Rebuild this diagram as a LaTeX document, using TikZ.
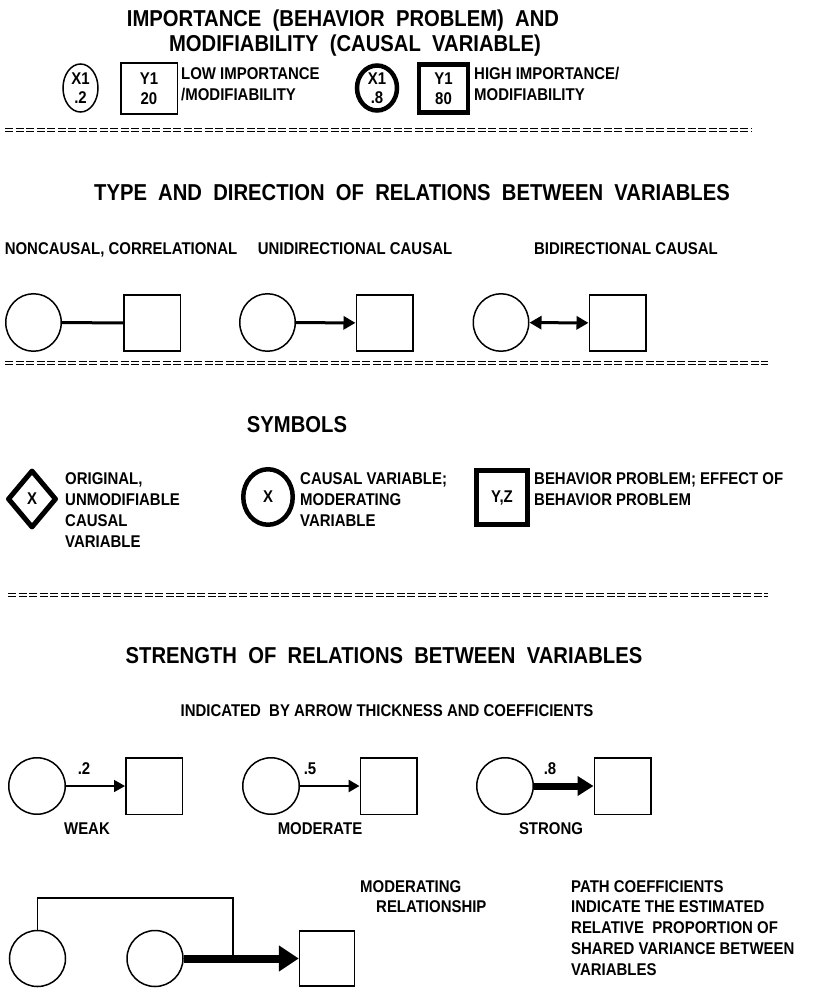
\documentclass[tikz,border=0pt]{standalone}
\usepackage{fontspec}
\usetikzlibrary{shapes.geometric,arrows.meta}
\newfontfamily\reffont[FakeStretch=0.88]{Liberation Sans Bold}
\newcommand{\bodyf}{\reffont\fontsize{17}{19.5}\selectfont}
\newcommand{\titlef}{\reffont\fontsize{23}{28}\selectfont}
\begin{document}
\begin{tikzpicture}[x=1pt,y=-1pt,
  lab/.style={font=\bodyf, inner sep=0pt, anchor=base west},
  clab/.style={font=\bodyf, inner sep=0pt, anchor=base},
  ttl/.style={font=\titlef, inner sep=0pt, anchor=base},
  oval/.style={ellipse, draw, line width=1.5pt, inner sep=0pt, font=\bodyf, align=center},
  boxn/.style={rectangle, draw, line width=1.5pt, inner sep=0pt, font=\bodyf, align=center},
  heavy/.style={line width=4.5pt},
  eqline/.style={double, double distance=1.8pt, line width=1.3pt, dash pattern=on 8pt off 2.5pt},
  conn/.style={line width=3pt},
  arrA/.style={-{Triangle[length=12pt,width=13pt]}, line width=3pt},
  arrB/.style={{Triangle[length=12pt,width=13pt]}-{Triangle[length=12pt,width=13pt]}, line width=3pt},
  weakarr/.style={-{Triangle[length=11pt,width=12pt]}, line width=1.6pt},
  modarr/.style={-{Triangle[length=11pt,width=12pt]}, line width=2.6pt},
  strongarr/.style={-{Triangle[length=16pt,width=19pt]}, line width=7pt},
  moderarr/.style={-{Triangle[length=20pt,width=25pt]}, line width=8pt},
  bracket/.style={line width=1.3pt}
]
\useasboundingbox (0,0) rectangle (816,990);

% ---------- Section 1 ----------
\node[ttl] (t1a) at (343,27) {IMPORTANCE\ \ (BEHAVIOR\ \ PROBLEM)\ \ AND};
\node[ttl] (t1b) at (355,52) {MODIFIABILITY\ \ (CAUSAL\ \ VARIABLE)};

\node[oval, minimum width=35pt, minimum height=48pt] (c1) at (80.5,88) {X1\\.2};
\node[boxn, minimum width=56.5pt, minimum height=50.5pt] (b1) at (149,88.5) {Y1\\20};
\node[lab] (l1a) at (181,80) {LOW IMPORTANCE};
\node[lab] (l1b) at (181,100) {/MODIFIABILITY};

\node[oval, heavy, minimum width=40pt, minimum height=45pt] (c2) at (377,88) {X1\\.8};
\node[boxn, heavy, minimum width=49pt, minimum height=48pt] (b2) at (443.5,88.5) {Y1\\80};
\node[lab] (l2a) at (474,80) {HIGH IMPORTANCE/};
\node[lab] (l2b) at (474,100) {MODIFIABILITY};

\coordinate (d1a) at (5,130);
\coordinate (d1b) at (752,130);
\draw[eqline] (d1a) -- (d1b);

% ---------- Section 2 ----------
\node[ttl] (t2) at (412,200) {TYPE\ \ AND\ \ DIRECTION\ \ OF\ \ RELATIONS\ \ BETWEEN\ \ VARIABLES};
\node[clab] (r1l) at (121,254) {NONCAUSAL, CORRELATIONAL};
\node[clab] (r2l) at (355,254) {UNIDIRECTIONAL CAUSAL};
\node[clab] (r3l) at (626,254) {BIDIRECTIONAL CAUSAL};

\node[oval, minimum width=55.5pt, minimum height=57.5pt] (r1c) at (33.5,322.5) {};
\node[boxn, minimum width=56.5pt, minimum height=56pt] (r1b) at (152,323) {};
\draw[conn] (r1c) -- (r1b);

\node[oval, minimum width=55.5pt, minimum height=57.5pt] (r2c) at (267.5,322.5) {};
\node[boxn, minimum width=56.5pt, minimum height=56pt] (r2b) at (384.5,323) {};
\draw[arrA] (r2c) -- (r2b);

\node[oval, minimum width=55.5pt, minimum height=57.5pt] (r3c) at (501,322.5) {};
\node[boxn, minimum width=56.5pt, minimum height=56pt] (r3b) at (617.5,323) {};
\draw[arrB] (r3c) -- (r3b);

\coordinate (d2a) at (5,363);
\coordinate (d2b) at (768,363);
\draw[eqline] (d2a) -- (d2b);

% ---------- Section 3 ----------
\node[ttl] (t3) at (297,432) {SYMBOLS};

\node[diamond, draw, line width=5pt, line join=round, inner sep=0pt, minimum width=49pt, minimum height=58pt, font=\bodyf] (sd) at (32,499) {X};
\node[lab] (sd1) at (65,484) {ORIGINAL,};
\node[lab] (sd2) at (65,505) {UNMODIFIABLE};
\node[lab] (sd3) at (65,526) {CAUSAL};
\node[lab] (sd4) at (65,547) {VARIABLE};

\node[oval, line width=4.5pt, minimum width=49.5pt, minimum height=55.5pt] (sc) at (268,497) {X};
\node[lab] (sc1) at (300,484) {CAUSAL VARIABLE;};
\node[lab] (sc2) at (300,505) {MODERATING};
\node[lab] (sc3) at (300,526) {VARIABLE};

\node[boxn, line width=5pt, minimum width=51pt, minimum height=54pt] (sb) at (502,497.5) {Y,Z};
\node[lab] (sb1) at (534,484) {BEHAVIOR PROBLEM; EFFECT OF};
\node[lab] (sb2) at (534,505) {BEHAVIOR PROBLEM};

\coordinate (d3a) at (8,595);
\coordinate (d3b) at (768,595);
\draw[eqline] (d3a) -- (d3b);

% ---------- Section 4 ----------
\node[ttl] (t4) at (384,663) {STRENGTH\ \ OF\ \ RELATIONS\ \ BETWEEN\ \ VARIABLES};
\node[clab] (t4s) at (387,716) {INDICATED\ \ BY ARROW THICKNESS AND COEFFICIENTS};

\node[oval, minimum width=56.5pt, minimum height=56.5pt] (s1c) at (37,786) {};
\node[boxn, minimum width=56.5pt, minimum height=56.5pt] (s1b) at (154,786) {};
\draw[weakarr] (s1c) -- (s1b);
\node[clab] (s1v) at (84,774) {.2};
\node[clab] (s1l) at (87,834) {WEAK};

\node[oval, minimum width=56.5pt, minimum height=56.5pt] (s2c) at (271,786) {};
\node[boxn, minimum width=56.5pt, minimum height=56.5pt] (s2b) at (388.5,786) {};
\draw[modarr] (s2c) -- (s2b);
\node[clab] (s2v) at (310,774) {.5};
\node[clab] (s2l) at (320,834) {MODERATE};

\node[oval, minimum width=56.5pt, minimum height=56.5pt] (s3c) at (505,786) {};
\node[boxn, minimum width=56.5pt, minimum height=56.5pt] (s3b) at (622.5,786) {};
\draw[strongarr] (s3c) -- (s3b);
\node[clab] (s3v) at (550,774) {.8};
\node[clab] (s3l) at (551,834) {STRONG};

% ---------- Moderating relationship ----------
\node[oval, minimum width=56pt, minimum height=56pt] (mA) at (37.5,958.5) {};
\node[oval, minimum width=56pt, minimum height=56pt] (mB) at (155,958.5) {};
\node[boxn, minimum width=55pt, minimum height=55pt] (mX) at (327,958.5) {};
\draw[moderarr] (mB) -- (mX);
\coordinate (mtop) at (233,898);
\coordinate (mjoin) at (233,958.5);
\draw[bracket] (mA.north) |- (mtop) -- (mjoin);

\node[lab] (ml1) at (360,892) {MODERATING};
\node[lab] (ml2) at (376,912) {RELATIONSHIP};

\node[lab] (p1) at (571,892) {PATH COEFFICIENTS};
\node[lab] (p2) at (571,912) {INDICATE THE ESTIMATED};
\node[lab] (p3) at (571,933) {RELATIVE\ \ PROPORTION OF};
\node[lab] (p4) at (571,954) {SHARED VARIANCE BETWEEN};
\node[lab] (p5) at (571,975) {VARIABLES};
\end{tikzpicture}
\end{document}
